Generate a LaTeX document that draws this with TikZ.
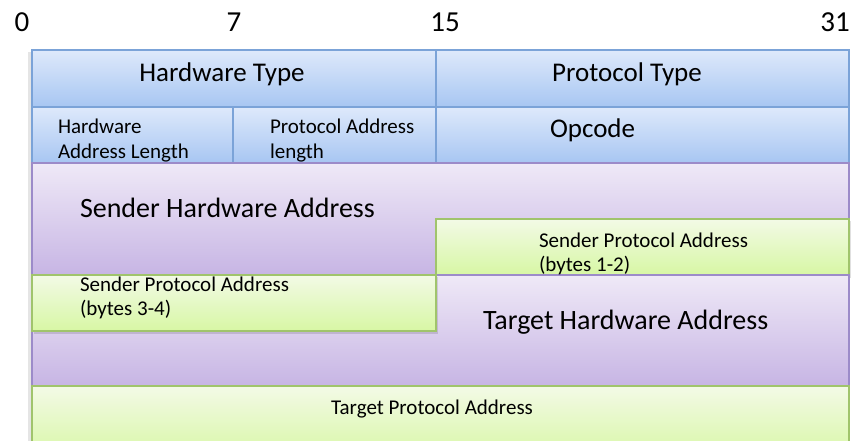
\documentclass[tikz,border=0pt]{standalone}
\usepackage{fontspec}
\setmainfont{Carlito}
\definecolor{blueTop}{HTML}{DEE9FB}
\definecolor{blueBot}{HTML}{A7C6F2}
\definecolor{blueLine}{HTML}{7BA3D8}
\definecolor{purpTop}{HTML}{EFE9F7}
\definecolor{purpBot}{HTML}{C7B5E4}
\definecolor{purpLine}{HTML}{9C8BC9}
\definecolor{greenTop}{HTML}{F3FAE6}
\definecolor{greenBot}{HTML}{D7F7A4}
\definecolor{greenLine}{HTML}{A0C46C}
\tikzset{
  bluebox/.style={draw=blueLine, line width=1.2pt, top color=blueTop, bottom color=blueBot},
  purpbox/.style={draw=purpLine, line width=1.2pt, top color=purpTop, bottom color=purpBot},
  greenbox/.style={draw=greenLine, line width=1.2pt, top color=greenTop, bottom color=greenBot},
  shadowbox/.style={fill=black, opacity=0.12},
  txt/.style={inner sep=0pt, outer sep=0pt, text=black},
  bignum/.style={txt, font=\fontsize{29}{34}\selectfont, anchor=base},
  big/.style={txt, font=\fontsize{27}{32}\selectfont},
  bigger/.style={txt, font=\fontsize{28}{34}\selectfont},
  small/.style={txt, font=\fontsize{21}{24}\selectfont},
}
\begin{document}
\begin{tikzpicture}[x=1pt,y=-1pt]
\useasboundingbox (0,0) rectangle (856,441);
\fill[white] (0,0) rectangle (856,441);
% bit numbers
\node[bignum] (b0) at (22,32) {0};
\node[bignum] (b7) at (234,32) {7};
\node[bignum] (b15) at (445,32) {15};
\node[bignum] (b31) at (835,32) {31};
% outer shadow
\fill[black, opacity=0.10] (28,52) rectangle (32,441);
% row 1
\draw[bluebox] (32,50) rectangle (436,107);
\draw[bluebox] (436,50) rectangle (849,107);
% row 2
\draw[bluebox] (32,107) rectangle (233,163);
\draw[bluebox] (233,107) rectangle (436,163);
\draw[bluebox] (436,107) rectangle (849,163);
% sender hardware address
\draw[purpbox] (32,163) rectangle (849,275);
% sender protocol address bytes 1-2
\fill[shadowbox] (438,221) rectangle (851,278);
\draw[greenbox] (436,219) rectangle (849,275);
% target hardware address
\draw[purpbox] (32,275) rectangle (849,386);
% sender protocol address bytes 3-4
\fill[shadowbox] (34,277) rectangle (438,334);
\draw[greenbox] (32,275) rectangle (436,331);
% target protocol address
\begin{scope}
\clip (0,0) rectangle (856,441);
\draw[greenbox] (32,386) rectangle (849,460);
\end{scope}
% texts
\node[big, anchor=base] (ht) at (222,82) {Hardware Type};
\node[big, anchor=base] (pt) at (627,82) {Protocol Type};
\node[small, anchor=base west] (hal1) at (58,134) {Hardware};
\node[small, anchor=base west] (hal2) at (58,158) {Address Length};
\node[small, anchor=base west] (pal1) at (270,134) {Protocol Address};
\node[small, anchor=base west] (pal2) at (270,158) {length};
\node[big, anchor=base west] (op) at (550,138) {Opcode};
\node[bigger, anchor=base west] (sha) at (80,217) {Sender Hardware Address};
\node[small, anchor=base west] (spa1a) at (539,247) {Sender Protocol Address};
\node[small, anchor=base west] (spa1b) at (539,271) {(bytes 1-2)};
\node[small, anchor=base west] (spa2a) at (80,291) {Sender Protocol Address};
\node[small, anchor=base west] (spa2b) at (80,315) {(bytes 3-4)};
\node[bigger, anchor=base west] (tha) at (483,329) {Target Hardware Address};
\node[small, anchor=base] (tpa) at (432,414) {Target Protocol Address};
\end{tikzpicture}
\end{document}
